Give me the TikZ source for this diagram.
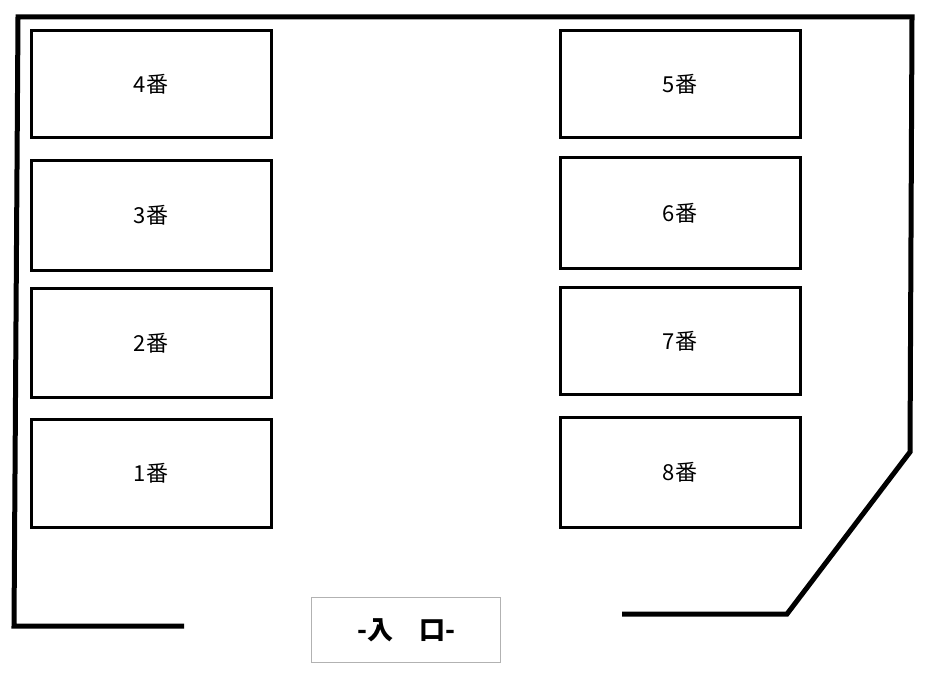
\documentclass[tikz,border=0pt]{standalone}
\usepackage{fontspec}
\newfontfamily\cjk{Noto Sans CJK JP}
\usetikzlibrary{positioning}
\begin{document}
\begin{tikzpicture}[x=1pt,y=-1pt]
\tikzstyle{space} = [rectangle, draw=black, line width=3pt, minimum width=240pt,
  font=\cjk\fontsize{22}{26}\selectfont]
\tikzstyle{wall} = [draw, line width=5pt]
\tikzstyle{gate} = [rectangle, draw=black!30, line width=1pt, minimum width=189pt,
  minimum height=65pt, font=\cjk\bfseries\fontsize{26}{30}\selectfont]
\useasboundingbox (0,0) rectangle (928,677);
% walls
\coordinate (topleft) at (18,17);
\coordinate (topright) at (912,17);
\coordinate (botleft) at (14,626);
\coordinate (gapleft) at (184,626);
\coordinate (corner) at (910,452);
\coordinate (cut) at (787,614);
\coordinate (gapright) at (622,614);
\path[wall] (gapleft) -- (botleft) -- (topleft) -- (topright) -- (corner) -- (cut) -- (gapright);
% left row
\node [space, minimum height=107pt] (p4) at (151,84) {4番};
\node [space, minimum height=110pt] (p3) at (151,215) {3番};
\node [space, minimum height=109pt] (p2) at (151,343) {2番};
\node [space, minimum height=108pt] (p1) at (151,473) {1番};
% right row
\node [space, minimum height=107pt] (p5) at (680,84) {5番};
\node [space, minimum height=111pt] (p6) at (680,213) {6番};
\node [space, minimum height=107pt] (p7) at (680,341) {7番};
\node [space, minimum height=110pt] (p8) at (680,472) {8番};
% entrance
\node [gate] (entry) at (406,630) {-入\hspace{1em}口-};
\end{tikzpicture}
\end{document}
